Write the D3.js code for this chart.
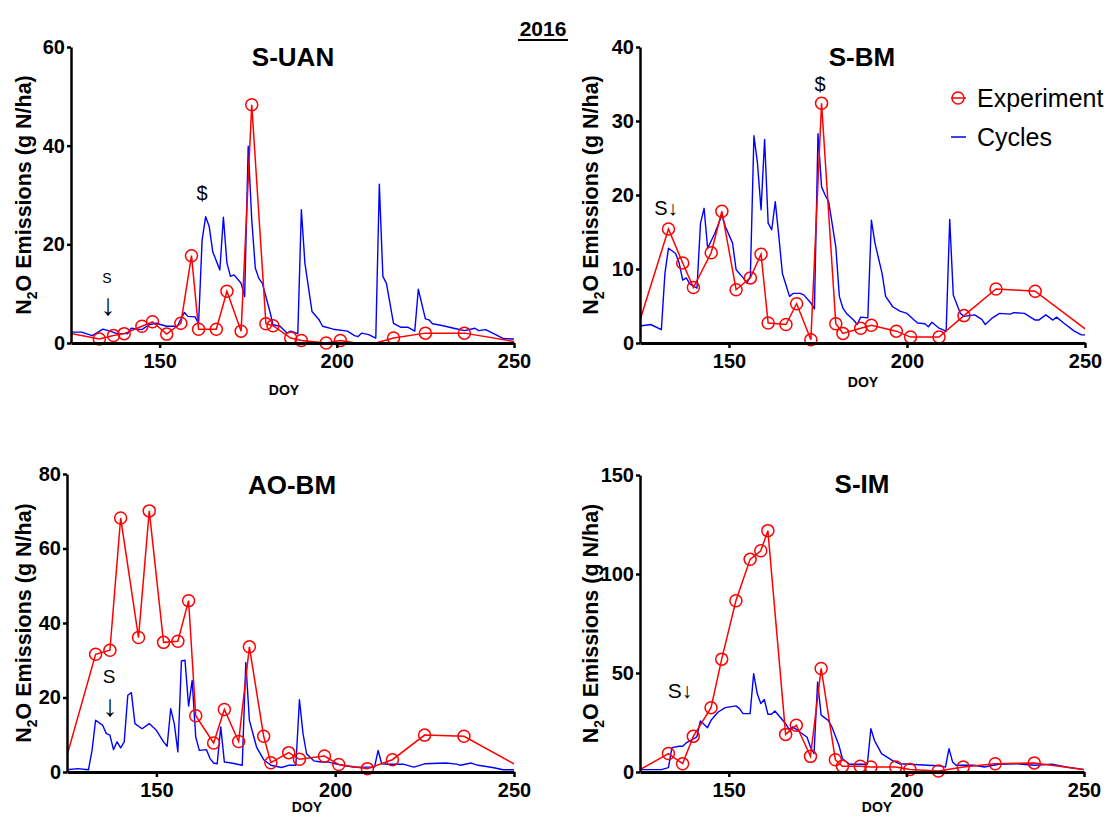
<!DOCTYPE html>
<html><head><meta charset="utf-8">
<script src="https://cdn.jsdelivr.net/npm/d3@7/dist/d3.min.js"></script>
<style>
body{margin:0;background:#fff}
svg{display:block}
text{font-family:"Liberation Sans",Arial,"DejaVu Sans",sans-serif;fill:#000}
.ann{opacity:0.999}
</style>
</head><body>
<svg id="chart" width="1109" height="816"></svg>
<script>
// ---- shared ----
const xTicks = [150, 200, 250];
const sampleDoy = [120,133,137,140,145,148,152,156,159,161,166,169,173,176,180,182,187,190,197,201,209,216,225,236,260];

// ---- S-UAN ----
const suanYTicks = [0,20,40,60];
const suanExp = [2.6,0.8,1.5,1.9,3.4,4.3,1.8,4.0,17.7,2.8,2.8,10.5,2.4,48.3,3.9,3.5,1.0,0.5,0,0.5,-0.4,1.0,2.0,2.0,-0.9];
const suanCycDoy = [125,128,131,134,136,138,141,142,145,147,149,152,155,157,158,160,161,162,163,164,165,167,168,169,170,171,173,174,175,176,177,178,179,181,182,184,186,187,189,190,191,193,195,196,199,203,205,206,207,209,211,212,213,214,216,218,220,222,223,225,226,227,230,233,236,239,240,242,244,247,250];
const suanCycVal = [2.2,2.2,1.5,2.8,2.4,1.9,1.9,3.0,2.7,3.7,4.0,3.4,3.4,6.2,5.4,5.3,3.9,20.9,25.6,23.6,18.5,14.8,25.5,16.2,13.5,13.8,12.1,9.4,39.9,25.0,15.2,13.1,12.1,6.7,3.7,3.4,2.0,2.4,1.9,27.0,16.2,6.4,4.7,3.4,2.8,2.4,1.5,1.3,2.0,1.7,1.0,32.2,13.5,12.1,4.0,3.2,3.2,2.4,10.9,4.9,4.7,3.9,3.5,3.0,2.5,3.0,2.5,2.7,2.0,0.9,0.8];

// ---- S-BM ----
const bmYTicks = [0,10,20,30,40];
const bmExp = [-4.6,15.4,10.8,7.5,12.2,17.8,7.2,8.8,12.0,2.7,2.5,5.3,0.45,32.4,2.6,1.3,2.0,2.4,1.6,0.8,0.8,3.7,7.3,7.0,-1.7];
const bmCycDoy = [125,128,131,132,133,135,136,137,138,139,141,142,143,144,146,148,149,151,152,154,155,156,157,158,159,160,161,162,163,164,165,167,168,170,171,173,174,175,176,177,178,180,181,182,183,185,186,187,189,190,191,193,194,196,198,200,202,203,205,206,207,209,211,212,213,215,216,219,221,222,224,226,229,230,233,236,237,239,241,242,244,247,249,250];
const bmCycVal = [2.3,2.5,1.8,9.4,12.8,12.1,10.8,8.5,8.8,8.0,7.4,16.2,18.2,12.8,14.8,17.3,15.7,13.5,9.9,8.8,8.1,9.0,28.0,24.3,18.0,27.5,16.2,15.3,19.1,14.4,9.4,6.3,6.7,6.7,6.5,5.4,4.6,28.3,21.1,20.0,19.1,13.0,6.3,4.7,4.0,3.1,2.5,3.5,3.4,16.6,13.5,9.4,6.3,4.9,4.3,4.0,3.1,2.7,2.6,2.2,2.8,2.0,1.6,16.7,6.5,4.0,3.6,3.8,3.2,2.5,3.4,4.0,3.9,4.1,4.0,3.1,3.1,3.8,3.1,3.5,2.7,1.6,1.1,1.1];

// ---- AO-BM ----
const aobmYTicks = [0,20,40,60,80];
const aobmExp = [-12.5,31.6,32.7,68.2,36.1,70.1,34.8,35.1,46.0,15.1,7.8,16.8,8.2,33.6,9.6,2.5,5.2,3.4,4.3,2.0,0.9,3.3,9.9,9.6,-3.1];
const aobmCycDoy = [125,128,131,132,133,135,136,137,138,139,140,141,142,143,144,146,148,150,152,153,154,155,156,157,158,159,160,161,162,164,165,166,167,168,169,171,173,174,175,176,178,180,182,185,187,189,190,191,192,194,196,198,200,202,205,208,211,212,213,215,219,222,225,231,234,235,238,240,244,247,250];
const aobmCycVal = [0.6,0.9,0.6,5.8,13.9,12.5,10.3,9.9,6.0,8.1,6.5,8.1,20.6,21.3,13.0,11.6,13.0,11.2,8.1,6.9,17.0,13.0,5.4,29.8,30.0,17.7,24.6,9.4,5.8,6.0,3.6,2.4,2.2,12.1,2.7,2.4,2.0,1.8,29.4,13.9,6.7,3.3,1.8,1.2,1.8,1.8,19.4,10.3,4.9,3.0,2.7,2.7,2.2,1.8,1.3,1.3,1.3,5.8,2.2,2.1,2.1,1.3,2.2,2.4,2.1,1.8,2.4,1.8,1.2,0.6,0.6];

// ---- S-IM ----
const simYTicks = [0,50,100,150];
const simExp = [-3.9,9.3,4.2,18.0,32.5,57.0,86.5,107.4,111.7,121.9,19.0,23.6,7.9,52.3,6.2,2.9,2.9,2.5,2.5,1.3,0.5,2.5,4.2,4.6,-1.2];
const simCycDoy = [125,128,131,133,134,136,137,138,141,142,143,144,145,147,149,152,153,154,156,157,158,159,160,161,162,163,164,166,167,168,170,172,173,174,175,176,178,179,181,182,184,187,189,190,191,193,196,198,201,206,210,211,212,213,214,219,222,226,231,236,241,245,250];
const simCycVal = [1.2,1.2,1.2,2.2,12.3,13.0,13.0,14.7,17.7,25.8,24.1,22.4,26.1,30.3,32.5,33.4,32.0,29.5,29.5,49.7,39.6,34.6,36.6,29.2,29.2,30.8,28.7,24.4,21.4,22.8,20.2,17.7,12.6,9.3,45.5,28.7,26.1,22.8,13.5,6.7,3.9,3.9,3.9,21.9,16.0,9.3,5.9,4.2,3.9,3.4,3.0,2.5,11.8,5.1,3.4,3.4,2.5,3.9,4.2,3.4,3.9,2.5,1.2];

const panels = [
  {title:"S-UAN", exp:suanExp, cDoy:suanCycDoy, cVal:suanCycVal, yTicks:suanYTicks,
   L:71, R:514, T:47, B:343, tx:293, ty:66, lx:23, dx:284, dy:395},
  {title:"S-BM", exp:bmExp, cDoy:bmCycDoy, cVal:bmCycVal, yTicks:bmYTicks,
   L:640, R:1085, T:47, B:343, tx:862, ty:66, lx:590, dx:863, dy:387},
  {title:"AO-BM", exp:aobmExp, cDoy:aobmCycDoy, cVal:aobmCycVal, yTicks:aobmYTicks,
   L:67, R:514, T:474, B:772, tx:292, ty:494, lx:23, dx:307, dy:812},
  {title:"S-IM", exp:simExp, cDoy:simCycDoy, cVal:simCycVal, yTicks:simYTicks,
   L:640, R:1084, T:475, B:772, tx:862, ty:493, lx:590, dx:877, dy:812}
];

const svg = d3.select("#chart");
const RED = "#ff0000", BLUE = "#0000ff";

// header
svg.append("text").attr("x", 543).attr("y", 36).attr("text-anchor","middle")
  .attr("font-size", 21).attr("font-weight","bold").text("2016");
svg.append("line").attr("x1", 518).attr("x2", 568).attr("y1", 40).attr("y2", 40)
  .attr("stroke","#000").attr("stroke-width",1.8);

panels.forEach((p, i) => {
  const yMax = p.yTicks[p.yTicks.length-1];
  const x = d3.scaleLinear().domain([125, 250]).range([p.L, p.R]);
  const y = d3.scaleLinear().domain([0, yMax]).range([p.B, p.T]);
  const g = svg.append("g");

  const clipId = "clip" + i;
  svg.append("clipPath").attr("id", clipId).append("rect")
    .attr("x", p.L).attr("y", p.T - 10).attr("width", p.R - p.L).attr("height", p.B - p.T + 11);

  // Cycles line
  const cyc = p.cDoy.map((d, k) => [d, p.cVal[k]]);
  g.append("path").datum(cyc).attr("clip-path", `url(#${clipId})`)
    .attr("fill","none").attr("stroke", BLUE).attr("stroke-width", 1.4)
    .attr("stroke-linejoin","round")
    .attr("d", d3.line().x(d => x(d[0])).y(d => y(d[1])));

  // Experiment line
  const exp = sampleDoy.map((d, k) => [d, p.exp[k]]);
  g.append("path").datum(exp).attr("clip-path", `url(#${clipId})`)
    .attr("fill","none").attr("stroke", RED).attr("stroke-width", 1.5)
    .attr("d", d3.line().x(d => x(d[0])).y(d => y(d[1])));

  g.selectAll("circle.m").data(exp.filter(d => d[0] >= 125 && d[0] <= 250 && d[1] >= 0))
    .enter().append("circle").attr("class","m")
    .attr("cx", d => x(d[0])).attr("cy", d => y(d[1])).attr("r", 6)
    .attr("fill","none").attr("stroke", RED).attr("stroke-width", 1.5);

  // axes
  const xa = g.append("g").attr("transform", `translate(0,${p.B})`)
    .call(d3.axisBottom(x).tickValues(xTicks).tickSize(5).tickSizeOuter(0).tickPadding(6));
  xa.select(".domain").attr("stroke","#000").attr("stroke-width",3);
  xa.selectAll(".tick line").attr("stroke","#000").attr("stroke-width",2.5);
  xa.selectAll(".tick text").attr("font-size",20).attr("font-weight","bold")
    .attr("font-family",'"Liberation Sans",Arial,sans-serif').attr("fill","#000");

  const ya = g.append("g").attr("transform", `translate(${p.L},0)`)
    .call(d3.axisLeft(y).tickValues(p.yTicks).tickSize(4).tickSizeOuter(0).tickPadding(2));
  ya.select(".domain").attr("stroke","#000").attr("stroke-width",2.5);
  ya.selectAll(".tick line").attr("stroke","#000").attr("stroke-width",2.5);
  ya.selectAll(".tick text").attr("font-size",20).attr("font-weight","bold")
    .attr("font-family",'"Liberation Sans",Arial,sans-serif').attr("fill","#000");

  // title
  g.append("text").attr("x", p.tx).attr("y", p.ty).attr("text-anchor","middle")
    .attr("font-size", 26).attr("font-weight","bold").text(p.title);

  // y label
  const yl = g.append("text").attr("transform", `translate(${p.lx},${(p.T + p.B)/2}) rotate(-90)`)
    .attr("text-anchor","middle").attr("dy","0.35em")
    .attr("font-size", 21.5).attr("font-weight","bold");
  yl.append("tspan").text("N");
  yl.append("tspan").attr("font-size", 14).attr("dy", 6).text("2");
  yl.append("tspan").attr("dy", -6).text("O Emissions (g N/ha)");

  // x label
  g.append("text").attr("x", p.dx).attr("y", p.dy).attr("text-anchor","middle")
    .attr("font-size", 14).attr("font-weight","bold").text("DOY");
});

// annotations
function ann(txt, xx, yy, size) {
  svg.append("text").attr("class","ann").attr("x", xx).attr("y", yy).attr("text-anchor","middle")
    .attr("font-family",'"DejaVu Sans","Liberation Sans",sans-serif')
    .attr("fill","#000").attr("font-size", size).text(txt);
}
// S-UAN
ann("S", 107, 283, 14);
ann("\u2193", 108, 315, 30);
ann("$", 202, 200, 20);
// S-BM
ann("S\u2193", 666, 215, 20);
ann("$", 820, 91, 20);
// AO-BM
ann("S", 109, 683, 19);
ann("\u2193", 110, 716, 30);
// S-IM
ann("S\u2193", 680, 698, 21);

// legend (in S-BM panel)
const lg = svg.append("g");
lg.append("line").attr("x1", 951).attr("x2", 966).attr("y1", 98).attr("y2", 98)
  .attr("stroke", RED).attr("stroke-width", 1.5);
lg.append("circle").attr("cx", 958).attr("cy", 98).attr("r", 6)
  .attr("fill","none").attr("stroke", RED).attr("stroke-width", 1.5);
lg.append("text").attr("x", 977).attr("y", 107).attr("font-size", 25).text("Experiment");
lg.append("line").attr("x1", 951).attr("x2", 966).attr("y1", 137).attr("y2", 137)
  .attr("stroke", BLUE).attr("stroke-width", 1.5);
lg.append("text").attr("x", 977).attr("y", 146).attr("font-size", 25).text("Cycles");
</script>
</body></html>
